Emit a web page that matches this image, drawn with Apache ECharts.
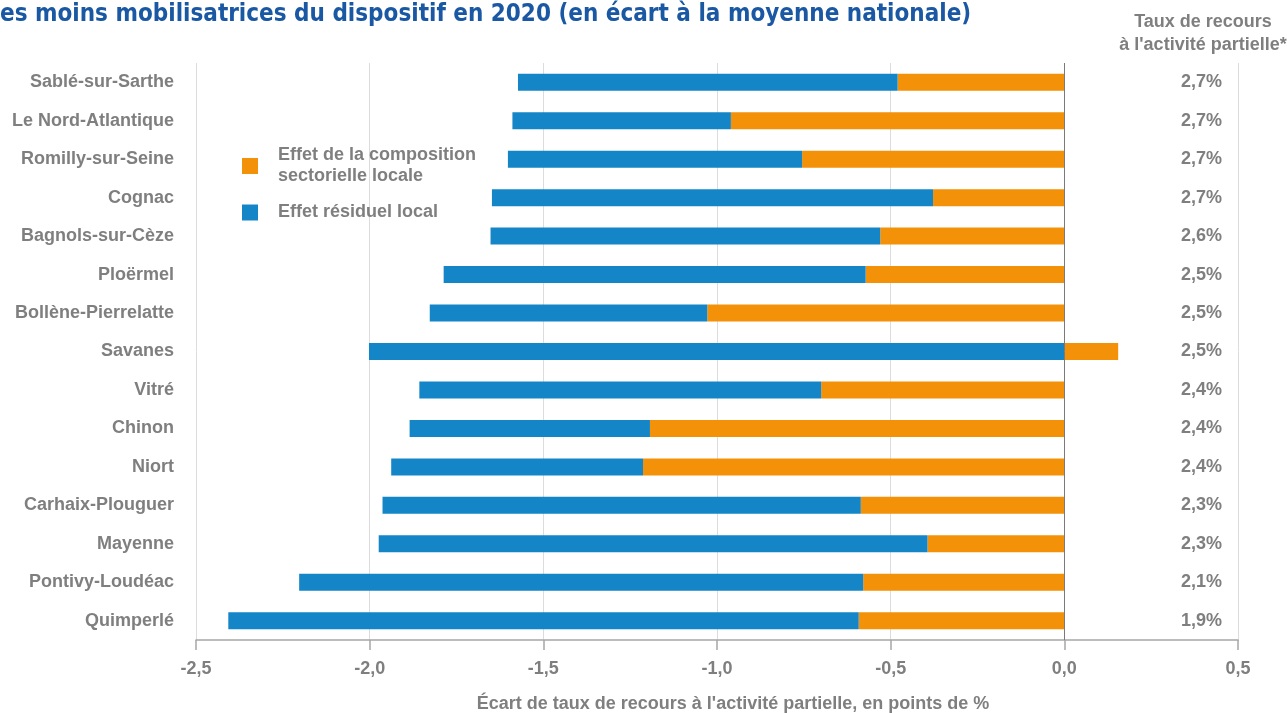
<!DOCTYPE html>
<html lang="fr">
<head>
    <meta charset="UTF-8">
    <title>Zones les moins mobilisatrices</title>
    <script src="https://cdn.jsdelivr.net/npm/echarts@6/dist/echarts.min.js"></script>
    <style>
        html, body { margin: 0; padding: 0; background: #fff; }
        #chart { width: 1287px; height: 713px; }
    </style>
</head>
<body>
<div id="chart"></div>
<script>
    // zones d'emploi, du haut vers le bas
    var zones = ['Sablé-sur-Sarthe', 'Le Nord-Atlantique', 'Romilly-sur-Seine', 'Cognac', 'Bagnols-sur-Cèze',
        'Ploërmel', 'Bollène-Pierrelatte', 'Savanes', 'Vitré', 'Chinon', 'Niort', 'Carhaix-Plouguer',
        'Mayenne', 'Pontivy-Loudéac', 'Quimperlé'];
    // effet de la composition sectorielle locale (points de %)
    var effetSectoriel = [-0.48, -0.96, -0.755, -0.378, -0.53, -0.572, -1.028, 0.155, -0.70, -1.193,
        -1.213, -0.586, -0.394, -0.579, -0.592];
    // effet residuel local (points de %)
    var effetResiduel = [-1.093, -0.629, -0.847, -1.27, -1.122, -1.215, -0.799, -2.002, -1.157, -0.692,
        -0.725, -1.377, -1.58, -1.624, -1.815];
    // taux de recours a l'activite partielle
    var tauxRecours = ['2,7%', '2,7%', '2,7%', '2,7%', '2,6%', '2,5%', '2,5%', '2,5%', '2,4%', '2,4%',
        '2,4%', '2,3%', '2,3%', '2,1%', '1,9%'];
    var xTicks = { min: -2.5, max: 0.5, interval: 0.5 };

    var grey = '#7f7f7f';
    var font = 'Liberation Sans';

    var chart = echarts.init(document.getElementById('chart'));

    var option = {
        animation: false,
        title: [
            {
                text: 'es moins mobilisatrices du dispositif en 2020 (en écart à la moyenne nationale)',
                left: 0, top: 3, padding: 0,
                textStyle: { color: '#1a58a3', fontFamily: 'DejaVu Sans Condensed, DejaVu Sans', fontWeight: 'bold', fontSize: 24 }
            },
            {
                text: 'Taux de recours\nà l\'activité partielle*',
                left: 1198, top: 6, textAlign: 'center',
                textStyle: { color: grey, fontFamily: font, fontWeight: 'bold', fontSize: 18, lineHeight: 23 }
            }
        ],
        legend: {
            orient: 'vertical',
            left: 237, top: 140,
            itemWidth: 16, itemHeight: 16, itemGap: 15,
            icon: 'rect',
            selectedMode: false,
            data: ['Effet de la composition\nsectorielle locale', 'Effet résiduel local'],
            textStyle: { color: grey, fontFamily: font, fontWeight: 'bold', fontSize: 18, lineHeight: 21, padding: [0, 0, 0, 15] }
        },
        grid: { left: 196, right: 49, top: 63, bottom: 73, outerBoundsMode: 'none' },
        xAxis: {
            type: 'value',
            min: xTicks.min, max: xTicks.max, interval: xTicks.interval,
            name: 'Écart de taux de recours à l\'activité partielle, en points de %',
            nameLocation: 'middle', nameGap: 55,
            nameTextStyle: { color: grey, fontFamily: font, fontWeight: 'bold', fontSize: 18, padding: [0, 0, 0, 32] },
            axisLine: { show: true, onZero: false, lineStyle: { color: '#a6a6a6', width: 1.5 } },
            axisTick: { show: true, length: 10, lineStyle: { color: '#a6a6a6', width: 1.5 } },
            axisLabel: {
                color: grey, fontFamily: font, fontWeight: 'bold', fontSize: 18, margin: 20,
                formatter: function (v) { return v.toFixed(1).replace('.', ','); }
            },
            splitLine: { show: true, lineStyle: { color: '#dcdcdc' } }
        },
        yAxis: [
            {
                type: 'category', inverse: true, data: zones,
                axisLine: { show: false, onZero: false },
                axisTick: { show: false },
                axisLabel: { color: grey, fontFamily: font, fontWeight: 'bold', fontSize: 18, margin: 22 }
            },
            {
                type: 'category', inverse: true, data: tauxRecours, position: 'right',
                axisLine: { show: false, onZero: false },
                axisTick: { show: false },
                axisLabel: { color: grey, fontFamily: font, fontWeight: 'bold', fontSize: 18, align: 'right', margin: -16 }
            }
        ],
        series: [
            {
                name: 'Effet de la composition\nsectorielle locale',
                type: 'bar', stack: 'total', barWidth: 17,
                itemStyle: { color: '#f39208' },
                data: effetSectoriel,
                markLine: {
                    silent: true, symbol: 'none', label: { show: false },
                    lineStyle: { color: '#7a7a7a', type: 'solid', width: 1 },
                    data: [{ xAxis: 0 }]
                },
                z: 3
            },
            {
                name: 'Effet résiduel local',
                type: 'bar', stack: 'total', barWidth: 17,
                itemStyle: { color: '#1486c8' },
                data: effetResiduel,
                z: 3
            }
        ]
    };

    chart.setOption(option);
</script>
</body>
</html>
